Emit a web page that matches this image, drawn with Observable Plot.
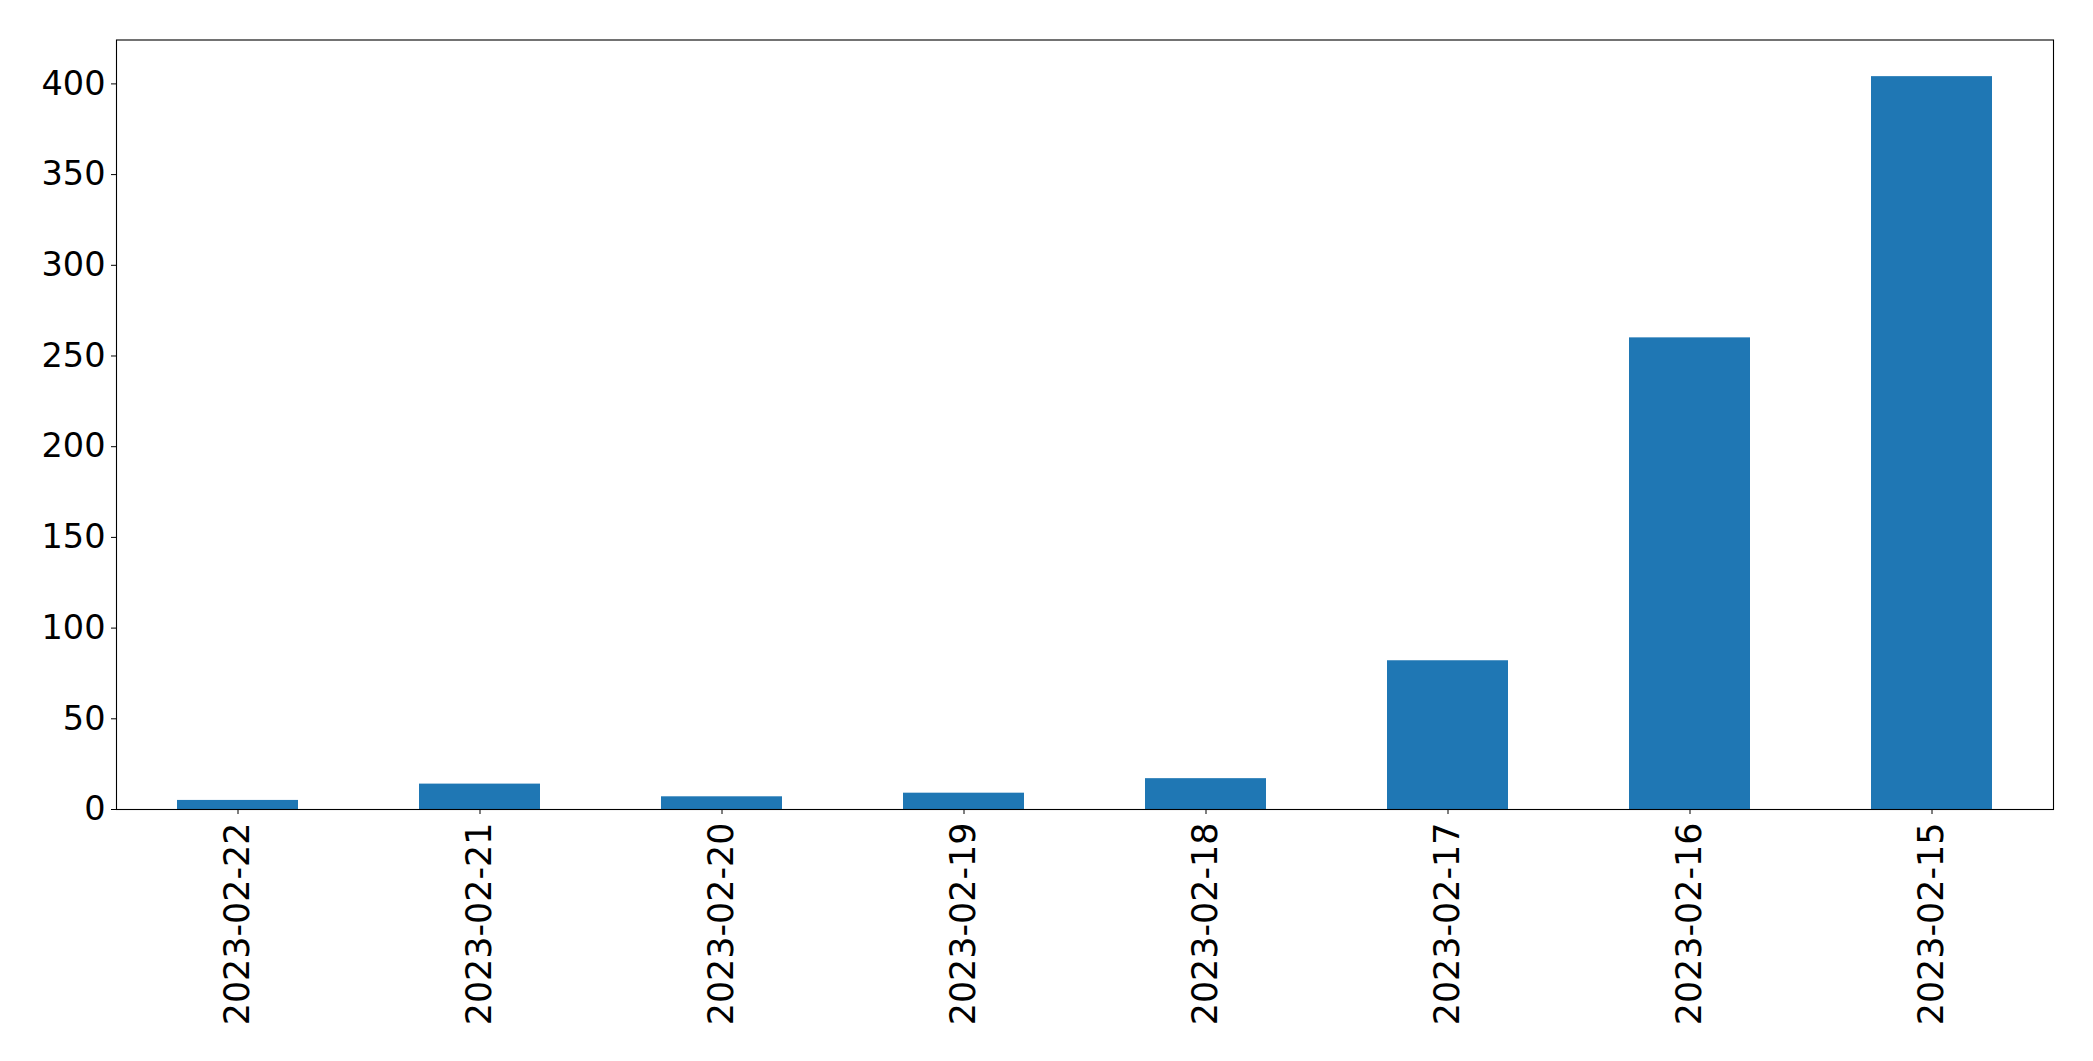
<!DOCTYPE html>
<html>
<head>
<meta charset="utf-8">
<script src="https://cdn.jsdelivr.net/npm/d3@7"></script>
<script src="https://cdn.jsdelivr.net/npm/@observablehq/plot@0.6"></script>
<style>
  html, body { margin: 0; padding: 0; background: white; }
</style>
</head>
<body>
<div id="chart"></div>
<script>
const dates = ["2023-02-22", "2023-02-21", "2023-02-20", "2023-02-19", "2023-02-18", "2023-02-17", "2023-02-16", "2023-02-15"];
const counts = [5, 14, 7, 9, 17, 82, 260, 404];
const yTicks = [0, 50, 100, 150, 200, 250, 300, 350, 400];

const data = dates.map((d, i) => ({date: d, count: counts[i]}));

const chart = Plot.plot({
  width: 2093,
  height: 1061,
  marginLeft: 116,
  marginRight: 40,
  marginTop: 39.5,
  marginBottom: 252,
  style: {
    fontFamily: "DejaVu Sans",
    fontSize: "33.5px",
    background: "white",
    color: "black"
  },
  x: {domain: dates, paddingInner: 0.5, paddingOuter: 0.25, align: 0.5, label: null},
  y: {domain: [0, 404 * 1.05], label: null},
  marks: [
    Plot.barY(data, {x: "date", y: "count", fill: "#1f77b4"}),
    Plot.axisY({ticks: yTicks, tickSize: 5, tickPadding: 6, fontSize: 33.5, label: null}),
    Plot.axisX({tickSize: 5, tickPadding: 8, tickRotate: -90, fontSize: 34.9, label: null}),
    Plot.frame({stroke: "black", strokeWidth: 1.1})
  ]
});
document.getElementById("chart").appendChild(chart);
</script>
</body>
</html>
